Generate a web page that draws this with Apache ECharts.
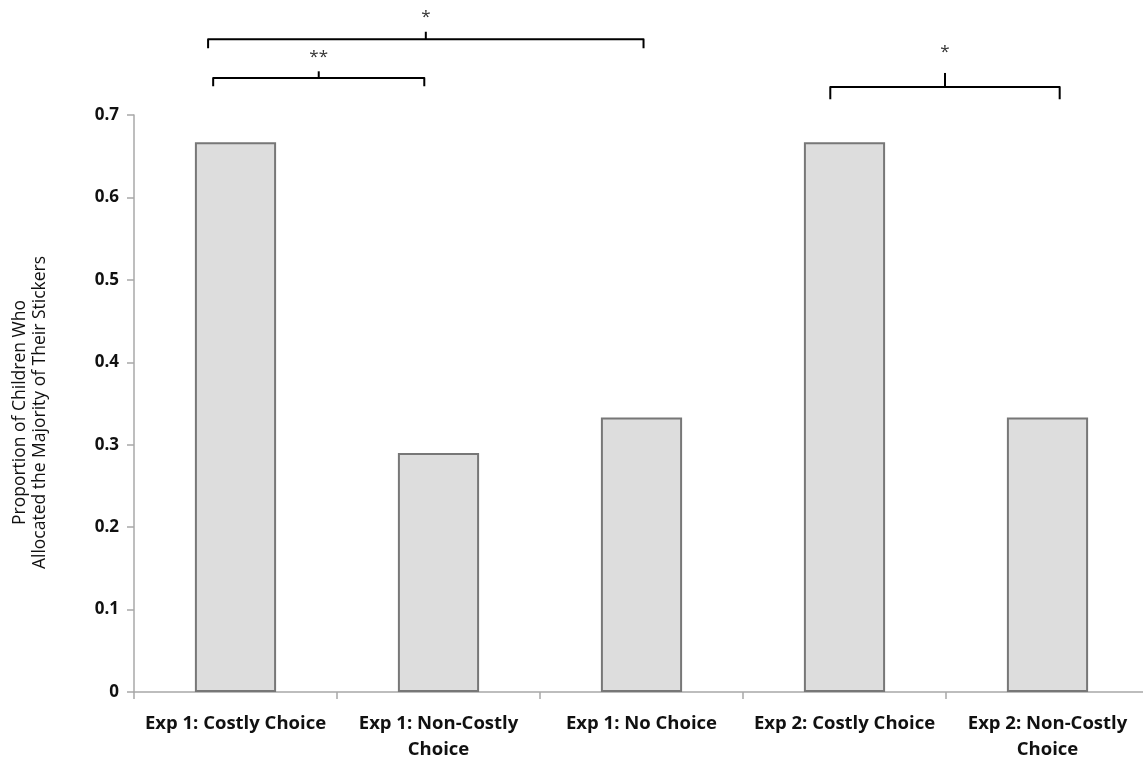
<!DOCTYPE html>
<html>
<head>
<meta charset="utf-8">
<script src="https://cdn.jsdelivr.net/npm/echarts@6/dist/echarts.min.js"></script>
<style>html,body{margin:0;padding:0;background:#fff}#c{width:1143px;height:761px}</style>
</head>
<body>
<div id="c"></div>
<script>
const categories = ['Exp 1: Costly Choice', 'Exp 1: Non-Costly\nChoice', 'Exp 1: No Choice', 'Exp 2: Costly Choice', 'Exp 2: Non-Costly\nChoice'];
const values = [0.667, 0.29, 0.333, 0.667, 0.333];
const yMin = 0, yMax = 0.7, yStep = 0.1;
const yTitle = 'Proportion of Children Who\nAllocated the Majority of Their Stickers';

// significance brackets (category-index positions, value levels)
const bracketFrom  = [-0.11, -0.135, 2.93];
const bracketTo    = [0.93, 2.01, 4.06];
const bracketLevel = [0.745, 0.792, 0.734];
const bracketEnd   = [0.735, 0.781, 0.719];
const bracketPeak  = [0.753, 0.801, 0.751];
const labelLevel   = [0.770, 0.819, 0.776];
const bracketLabel = ['**', '*', '*'];

const chart = echarts.init(document.getElementById('c'), null, {renderer: 'canvas'});
const font = '"Open Sans", Lato, sans-serif';
chart.setOption({
  animation: false,
  backgroundColor: '#fff',
  grid: {left: 134, top: 115, width: 1015, height: 577, containLabel: false, outerBoundsMode: 'none'},
  xAxis: {
    type: 'category',
    data: categories,
    axisLine: {lineStyle: {color: '#a8a8a8', width: 1.5}},
    axisTick: {show: true, length: 7, lineStyle: {color: '#a8a8a8', width: 1.5}},
    axisLabel: {color: '#111', fontFamily: font, fontWeight: 700, fontSize: 18.5, lineHeight: 26, margin: 19, interval: 0}
  },
  yAxis: {
    type: 'value',
    min: yMin, max: yMax, interval: yStep,
    name: yTitle,
    nameLocation: 'middle',
    nameGap: 84,
    nameRotate: 90,
    nameTextStyle: {color: '#111', fontFamily: font, fontSize: 17.5, lineHeight: 20, padding: [0, 18, 0, 0]},
    splitLine: {show: false},
    axisLine: {show: true, lineStyle: {color: '#a8a8a8', width: 1.5}},
    axisTick: {show: true, length: 7, lineStyle: {color: '#a8a8a8', width: 1.5}},
    axisLabel: {color: '#111', fontFamily: font, fontWeight: 700, fontSize: 17, margin: 15}
  },
  series: [
    {
      type: 'bar',
      data: values,
      barWidth: '40%',
      itemStyle: {color: '#dddddd', borderColor: '#777777', borderWidth: 2}
    },
    {
      type: 'custom',
      clip: false,
      silent: true,
      data: bracketLabel.map((l, i) => [i, 0]),
      renderItem: function (params, api) {
        const i = params.dataIndex;
        const band = api.size([1, 0])[0];
        const c0 = api.coord([0, 0])[0];
        const X = f => c0 + f * band;
        const Y = v => api.coord([0, v])[1];
        const x1 = X(bracketFrom[i]), x2 = X(bracketTo[i]), xm = (x1 + x2) / 2;
        const yl = Y(bracketLevel[i]), ye = Y(bracketEnd[i]), yp = Y(bracketPeak[i]);
        const st = {stroke: '#000', lineWidth: 2, fill: null, lineJoin: 'round', lineCap: 'butt'};
        return {
          type: 'group',
          children: [
            {type: 'polyline', shape: {points: [[x1, ye], [x1, yl], [x2, yl], [x2, ye]]}, style: st},
            {type: 'line', shape: {x1: xm, y1: yl, x2: xm, y2: yp}, style: st},
            {type: 'text', style: {text: bracketLabel[i], x: xm, y: Y(labelLevel[i]), align: 'center', verticalAlign: 'middle', fill: '#333', font: '17px ' + font}}
          ]
        };
      }
    }
  ]
});
</script>
</body>
</html>
